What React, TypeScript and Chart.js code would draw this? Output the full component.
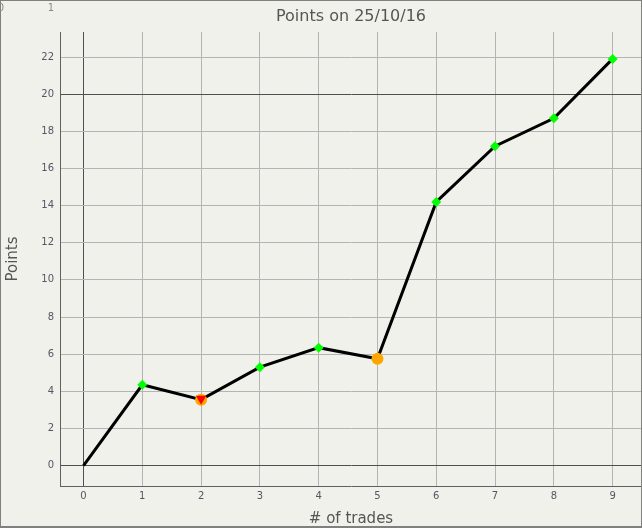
import React, { useEffect, useRef } from "react";
import { Chart, registerables } from "chart.js";

Chart.register(...registerables);

const trades = [0, 1, 2, 3, 4, 5, 6, 7, 8, 9];
const points = [0, 4.35, 3.55, 5.3, 6.35, 5.75, 14.2, 17.2, 18.7, 21.9];
const markerStyles = ["circle", "rectRot", "circle", "rectRot", "rectRot", "circle", "rectRot", "rectRot", "rectRot", "rectRot"];
const markerColors = ["#000000", "#00ff00", "#ffa500", "#00ff00", "#00ff00", "#ffa500", "#00ff00", "#00ff00", "#00ff00", "#00ff00"];
const markerRadius = [0, 5, 6, 5, 5, 6, 5, 5, 5, 5];
const lossTrades = [2];
const lossPoints = [3.6];
const xTicks = [0, 1, 2, 3, 4, 5, 6, 7, 8, 9];
const yTicks = [0, 2, 4, 6, 8, 10, 12, 14, 16, 18, 20, 22];
const darkY = [0, 20];
const darkX = [0];

const BG = "#f1f1eb";
const FONT = "'DejaVu Sans', Verdana, sans-serif";

const framePlugin = {
  id: "frame",
  beforeDraw(chart: any) {
    const { ctx, width, height } = chart;
    ctx.save();
    ctx.fillStyle = BG;
    ctx.fillRect(0, 0, width, height);
    ctx.restore();
  },
  afterDraw(chart: any) {
    const { ctx, width, height } = chart;
    ctx.save();
    ctx.strokeStyle = "#808080";
    ctx.lineWidth = 2;
    ctx.strokeRect(0, 0, width, height - 1);
    ctx.fillStyle = "#8a8a7a";
    ctx.font = "10px " + FONT;
    ctx.textBaseline = "middle";
    ctx.textAlign = "center";
    ctx.fillText("0", 1, 8);
    ctx.fillText("1", 51, 8);
    ctx.restore();
  },
};

export default function App() {
  const ref = useRef<HTMLCanvasElement>(null);
  useEffect(() => {
    document.body.style.margin = "0";
    const chart = new Chart(ref.current!, {
      type: "line",
      data: {
        datasets: [
          {
            data: lossTrades.map((x, i) => ({ x, y: lossPoints[i] })),
            showLine: false,
            pointStyle: "triangle",
            rotation: 180,
            pointRadius: 6,
            backgroundColor: "#ff0000",
            borderColor: "#ff0000",
            borderWidth: 0,
            order: 0,
          },
          {
            data: trades.map((x, i) => ({ x, y: points[i] })),
            borderColor: "#000000",
            borderWidth: 3,
            tension: 0,
            pointStyle: markerStyles as any,
            pointRadius: markerRadius,
            pointBackgroundColor: markerColors,
            pointBorderColor: markerColors,
            pointBorderWidth: 0,
            order: 1,
          },
        ],
      },
      options: {
        animation: false,
        responsive: false,
        events: [],
        layout: { padding: 0, autoPadding: false },
        plugins: {
          legend: { display: false },
          tooltip: { enabled: false },
          title: {
            display: true,
            text: "Points on 25/10/16",
            fullSize: false,
            color: "#555555",
            font: { family: FONT, size: 16, weight: "normal", lineHeight: "19px" },
            padding: { top: 7, bottom: 6 },
          },
        },
        scales: {
          x: {
            type: "linear",
            min: -0.4,
            max: 9.5,
            afterBuildTicks: (s: any) => {
              s.ticks = xTicks.map((v) => ({ value: v }));
            },
            afterFit: (s: any) => {
              s.height = 42;
              s.paddingLeft = 0;
              s.paddingRight = 0;
            },
            ticks: {
              color: "#555566",
              font: { family: FONT, size: 10 },
              padding: 4,
              maxRotation: 0,
              autoSkip: false,
            },
            grid: {
              drawTicks: false,
              color: (c: any) => (darkX.includes(c.tick?.value) ? "#505050" : "#b4b4b4"),
              lineWidth: 1,
            },
            border: { display: true, color: "#606060", width: 1 },
            title: {
              display: true,
              text: "# of trades",
              color: "#555555",
              font: { family: FONT, size: 15 },
              padding: { top: 2, bottom: 0 },
            },
          },
          y: {
            type: "linear",
            min: -1.1,
            max: 23.35,
            afterBuildTicks: (s: any) => {
              s.ticks = yTicks.map((v) => ({ value: v }));
            },
            afterFit: (s: any) => {
              s.width = 60;
              s.paddingTop = 0;
              s.paddingBottom = 0;
            },
            ticks: {
              color: "#555566",
              font: { family: FONT, size: 10 },
              padding: 6,
              autoSkip: false,
            },
            grid: {
              drawTicks: false,
              color: (c: any) => (darkY.includes(c.tick?.value) ? "#505050" : "#b4b4b4"),
              lineWidth: 1,
            },
            border: { display: true, color: "#606060", width: 1 },
            title: {
              display: true,
              text: "Points",
              color: "#555555",
              font: { family: FONT, size: 15 },
              padding: { top: 4, bottom: 0 },
            },
          },
        },
      },
      plugins: [framePlugin],
    });
    return () => chart.destroy();
  }, []);
  return (
    <div style={{ position: "absolute", left: 0, top: 0, width: 642, height: 528 }}>
      <canvas ref={ref} width={642} height={528} style={{ display: "block" }} />
    </div>
  );
}
